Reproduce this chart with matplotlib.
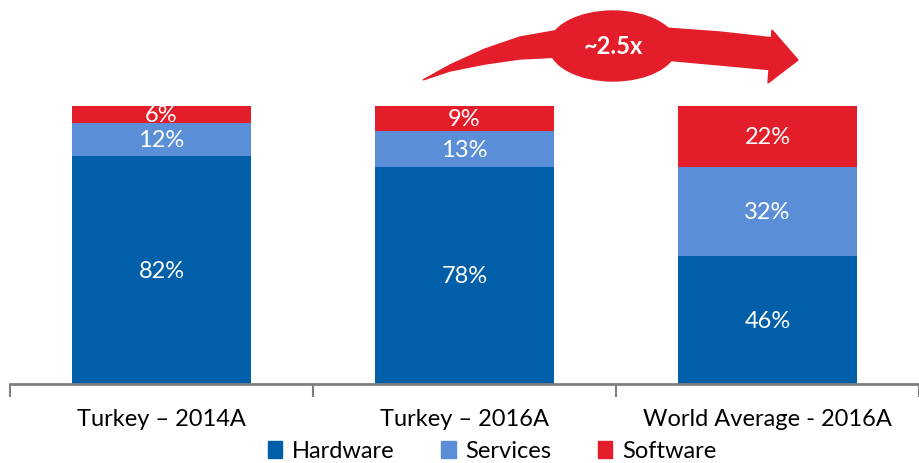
import matplotlib
matplotlib.use('Agg')
import matplotlib.pyplot as plt
import matplotlib.transforms as mtransforms
from matplotlib.patches import Ellipse, Polygon, Rectangle
import numpy as np

plt.rcParams['font.family'] = ['Lato', 'DejaVu Sans']

categories = ['Turkey – 2014A', 'Turkey – 2016A', 'World Average - 2016A']
series = ['Hardware', 'Services', 'Software']
hardware = [82, 78, 46]
services = [12, 13, 32]
software = [6, 9, 22]
colors = ['#005FA8', '#5A8ED6', '#E41D2A']
multiple = '~2.5x'

fig = plt.figure(figsize=(9.19, 4.64), dpi=100)
ax = fig.add_axes([10/919, 1 - 385/464, 909/919, 385/464])

x = np.arange(len(categories))
w = 0.59
bottom = np.zeros(len(categories))
for vals, col in zip([hardware, services, software], colors):
    ax.bar(x, vals, w, bottom=bottom, color=col, zorder=2)
    for xi, v, b in zip(x, vals, bottom):
        ax.text(xi, b + v / 2, '%d%%' % v, ha='center', va='center',
                color='white', fontsize=17)
    bottom = bottom + np.array(vals)

ax.set_xlim(-0.5, 2.5)
ax.set_ylim(0, 100 * 385 / 278)
for s in ['top', 'right', 'left']:
    ax.spines[s].set_visible(False)
ax.spines['bottom'].set_color('#7f7f7f')
ax.spines['bottom'].set_linewidth(2)
ax.set_yticks([])
ax.set_xticks(x)
ax.set_xticklabels(categories, fontsize=17)
ax.tick_params(axis='x', which='major', length=0, pad=17)
ax.set_xticks([-0.5, 0.5, 1.5, 2.5], minor=True)
ax.tick_params(axis='x', which='minor', length=9, width=1.5, color='#7f7f7f')

# curved arrow drawn in pixel coordinates (origin top-left)
px = mtransforms.Affine2D().scale(1/919, -1/464).translate(0, 1) + fig.transFigure
red = colors[2]
tail = [(423, 81), (450, 66), (485, 50), (520, 38), (560, 31),
        (560, 58), (520, 60), (485, 65), (450, 72)]
fig.patches.append(Polygon(tail, closed=True, color=red, transform=px))
body = [(665, 29), (720, 33), (774, 39), (774, 71), (720, 66), (665, 61)]
fig.patches.append(Polygon(body, closed=True, color=red, transform=px))
head = [(772, 31), (798, 61), (768, 84)]
fig.patches.append(Polygon(head, closed=True, color=red, transform=px))
fig.patches.append(Ellipse((613, 47), 128, 70, color=red, transform=px))
fig.text(613/919, 1 - 46/464, multiple, ha='center', va='center', color='white',
         fontsize=17, fontweight='bold')

handles = [Rectangle((0, 0), 1, 1, color=c) for c in colors]
fig.legend(handles, series, loc='center', bbox_to_anchor=(492/919, 1 - 452/464),
           ncol=3, frameon=False, fontsize=17, handlelength=0.6, handleheight=0.7,
           handletextpad=0.4, columnspacing=2.0, borderpad=0)

fig.savefig('out.png', dpi=100)
